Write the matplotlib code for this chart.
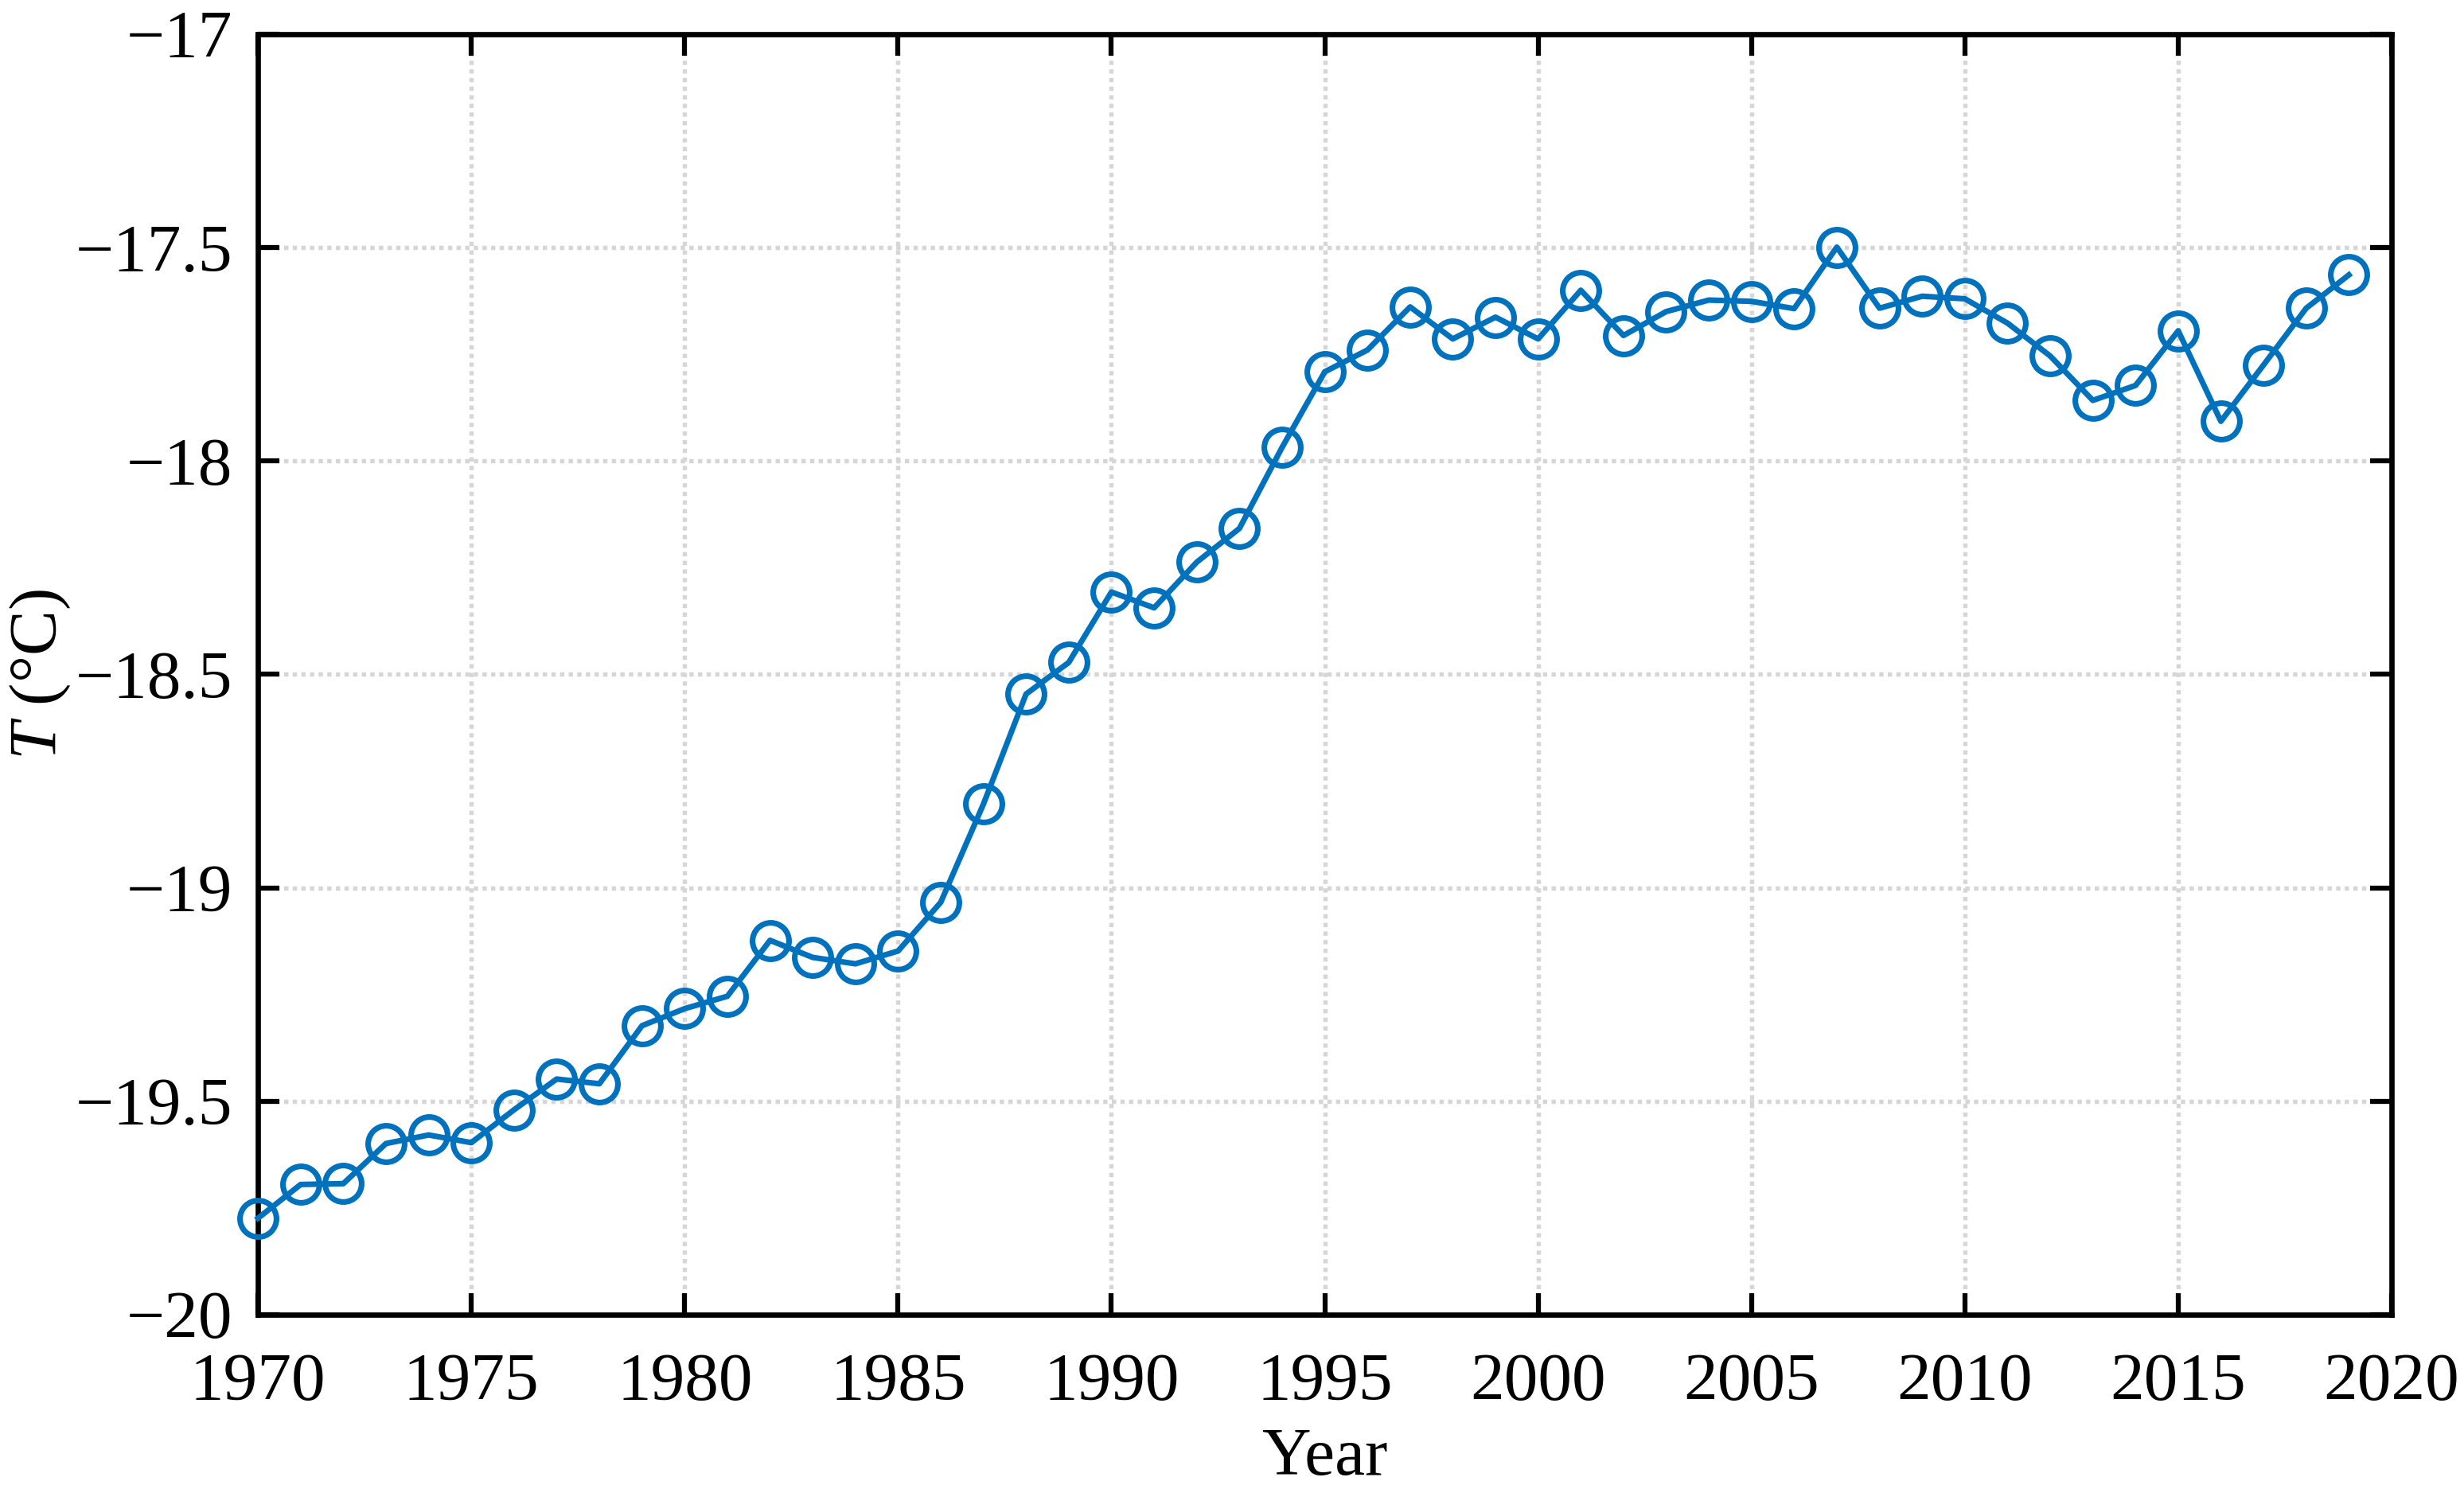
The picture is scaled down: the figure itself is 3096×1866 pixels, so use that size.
import numpy as np
import matplotlib
matplotlib.use('Agg')
import matplotlib.pyplot as plt
from matplotlib.ticker import FuncFormatter

# Jahresmittel der Temperatur
years = list(range(1970, 2020))
temp = [-19.774, -19.695, -19.693, -19.599, -19.579, -19.597, -19.520, -19.448, -19.459, -19.323,
        -19.283, -19.254, -19.123, -19.163, -19.178, -19.148, -19.034, -18.804, -18.546, -18.472,
        -18.307, -18.344, -18.237, -18.158, -17.968, -17.791, -17.740, -17.639, -17.714, -17.663,
        -17.714, -17.600, -17.706, -17.650, -17.623, -17.626, -17.643, -17.499, -17.642, -17.614,
        -17.620, -17.677, -17.754, -17.858, -17.823, -17.695, -17.907, -17.775, -17.642, -17.564]

xticks = [1970, 1975, 1980, 1985, 1990, 1995, 2000, 2005, 2010, 2015, 2020]
yticks = [-20, -19.5, -19, -18.5, -18, -17.5, -17]

plt.rcParams['font.family'] = ['Liberation Serif', 'DejaVu Serif']
plt.rcParams['mathtext.fontset'] = 'custom'
plt.rcParams['mathtext.rm'] = 'Liberation Serif'
plt.rcParams['mathtext.it'] = 'Liberation Serif:italic'

fig = plt.figure(figsize=(10.32, 6.22), dpi=300)
ax = fig.add_axes([0.1047, 0.1147, 0.8659, 0.8623])

ax.plot(years, temp, '-o', color='#0072BD', lw=1.7, ms=11, mew=1.7,
        mfc='none', mec='#0072BD', clip_on=False, zorder=3)

ax.set_xlim(1970, 2020)
ax.set_ylim(-20, -17)
ax.set_xticks(xticks)
ax.set_yticks(yticks)
ax.yaxis.set_major_formatter(FuncFormatter(lambda v, p: f'{v:g}'.replace('-', '\u2212')))

ax.grid(True, color='#d6d6d6', lw=1.3, linestyle=(0, (1, 1)))
ax.set_axisbelow(True)
ax.tick_params(direction='in', top=True, right=True, length=6.5, width=1.5,
               labelsize=20.5)
ax.tick_params(axis='x', pad=11.5)
ax.tick_params(axis='y', pad=7.7)
for s in ax.spines.values():
    s.set_linewidth(1.6)

ax.set_xlabel('Year', fontsize=20.5, labelpad=4)
ax.set_ylabel('$T$ (°C)', fontsize=20.5)
ax.yaxis.set_label_coords(-0.087, 0.5)

fig.savefig('out.png', dpi=300)
